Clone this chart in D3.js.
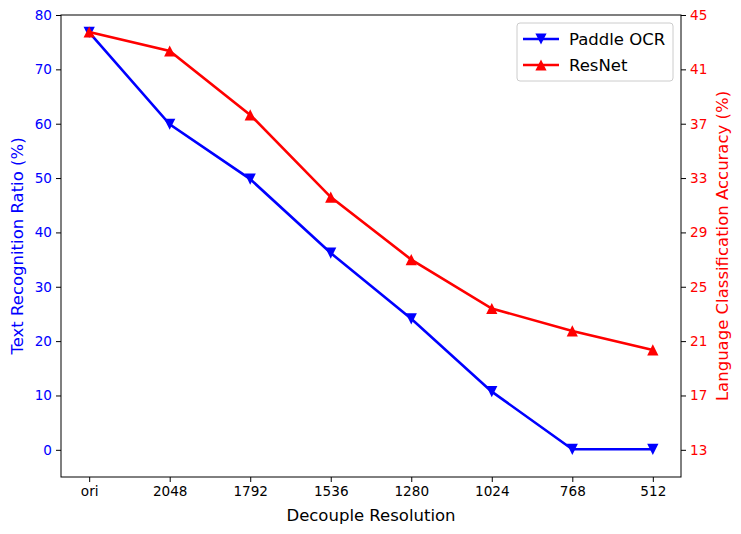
<!DOCTYPE html>
<html>
<head>
<meta charset="utf-8">
<script src="https://cdn.jsdelivr.net/npm/d3@7"></script>
<style>
  body { margin: 0; background: #fff; }
  text { font-family: "DejaVu Sans", sans-serif; }
</style>
</head>
<body>
<div id="chart"></div>
<script>
// data
var resolutions = ["ori", "2048", "1792", "1536", "1280", "1024", "768", "512"];
var paddleOcr = [76.8, 59.9, 49.8, 36.2, 24.1, 10.7, 0.1, 0.1];
var resNet = [43.75, 42.35, 37.65, 31.6, 27.0, 23.4, 21.75, 20.35];
var leftTicks = [0, 10, 20, 30, 40, 50, 60, 70, 80];
var rightTicks = [13, 17, 21, 25, 29, 33, 37, 41, 45];

var width = 741, height = 534;
var mLeft = 61, mRight = 681, mTop = 15, mBottom = 477;

var svg = d3.select("#chart").append("svg").attr("width", width).attr("height", height);

var x = d3.scaleLinear().domain([-0.35, 7.35]).range([mLeft, mRight]);
var yL = d3.scaleLinear().domain([-5, 80]).range([mBottom, mTop]);
var yR = d3.scaleLinear().domain([11, 45]).range([mBottom, mTop]);

function styleAxis(g, color) {
  g.selectAll("path").remove();
  g.selectAll("line").attr("stroke", "#000").attr("stroke-width", 1);
  g.selectAll("text").attr("fill", color).style("font-size", "13.6px")
    .style("font-family", "DejaVu Sans, sans-serif");
}

svg.append("g").attr("transform", "translate(0," + mBottom + ")")
  .call(d3.axisBottom(x).tickValues(d3.range(resolutions.length)).tickFormat(i => resolutions[i]).tickSize(5).tickPadding(4))
  .call(g => styleAxis(g, "#000"));

svg.append("g").attr("transform", "translate(" + mLeft + ",0)")
  .call(d3.axisLeft(yL).tickValues(leftTicks).tickSize(5).tickPadding(4))
  .call(g => styleAxis(g, "blue"));

svg.append("g").attr("transform", "translate(" + mRight + ",0)")
  .call(d3.axisRight(yR).tickValues(rightTicks).tickSize(5).tickPadding(4))
  .call(g => styleAxis(g, "red"));

// frame
svg.append("rect").attr("x", mLeft).attr("y", mTop).attr("width", mRight - mLeft).attr("height", mBottom - mTop)
  .attr("fill", "none").attr("stroke", "#000").attr("stroke-width", 1);

// matplotlib-like triangle marker (v / ^)
function triPath(down) {
  var h = 5.6;
  return down ? "M0," + h + "L" + (-h) + "," + (-h) + "L" + h + "," + (-h) + "Z"
              : "M0," + (-h) + "L" + (-h) + "," + h + "L" + h + "," + h + "Z";
}

function drawSeries(vals, y, color, down) {
  var line = d3.line().x((d, i) => x(i)).y(d => y(d));
  svg.append("path").datum(vals).attr("fill", "none").attr("stroke", color)
    .attr("stroke-width", 2.6).attr("d", line);
  svg.selectAll(null).data(vals).enter().append("path")
    .attr("d", triPath(down))
    .attr("fill", color)
    .attr("transform", (d, i) => "translate(" + x(i) + "," + y(d) + ")");
}

drawSeries(paddleOcr, yL, "blue", true);
drawSeries(resNet, yR, "red", false);

// axis titles
svg.append("text").attr("x", (mLeft + mRight) / 2).attr("y", 521).attr("text-anchor", "middle")
  .style("font-size", "16.5px").text("Decouple Resolution");
svg.append("text").attr("transform", "translate(23," + (mTop + mBottom) / 2 + ") rotate(-90)")
  .attr("text-anchor", "middle").attr("fill", "blue").style("font-size", "16.5px")
  .text("Text Recognition Ratio (%)");
svg.append("text").attr("transform", "translate(728," + (mTop + mBottom) / 2 + ") rotate(-90)")
  .attr("text-anchor", "middle").attr("fill", "red").style("font-size", "16.5px")
  .text("Language Classification Accuracy (%)");

// legend
var lg = svg.append("g").attr("transform", "translate(517,23)");
lg.append("rect").attr("width", 156).attr("height", 58).attr("rx", 3)
  .attr("fill", "#fff").attr("fill-opacity", 0.8).attr("stroke", "#ccc").attr("stroke-width", 1);
var items = [["Paddle OCR", "blue", true], ["ResNet", "red", false]];
items.forEach(function (it, k) {
  var cy = 16 + k * 26;
  lg.append("line").attr("x1", 6).attr("x2", 42).attr("y1", cy).attr("y2", cy)
    .attr("stroke", it[1]).attr("stroke-width", 2.6);
  lg.append("path").attr("d", triPath(it[2])).attr("fill", it[1])
    .attr("transform", "translate(24," + cy + ")");
  lg.append("text").attr("x", 52).attr("y", cy + 6).style("font-size", "16.5px").text(it[0]);
});
</script>
</body>
</html>
